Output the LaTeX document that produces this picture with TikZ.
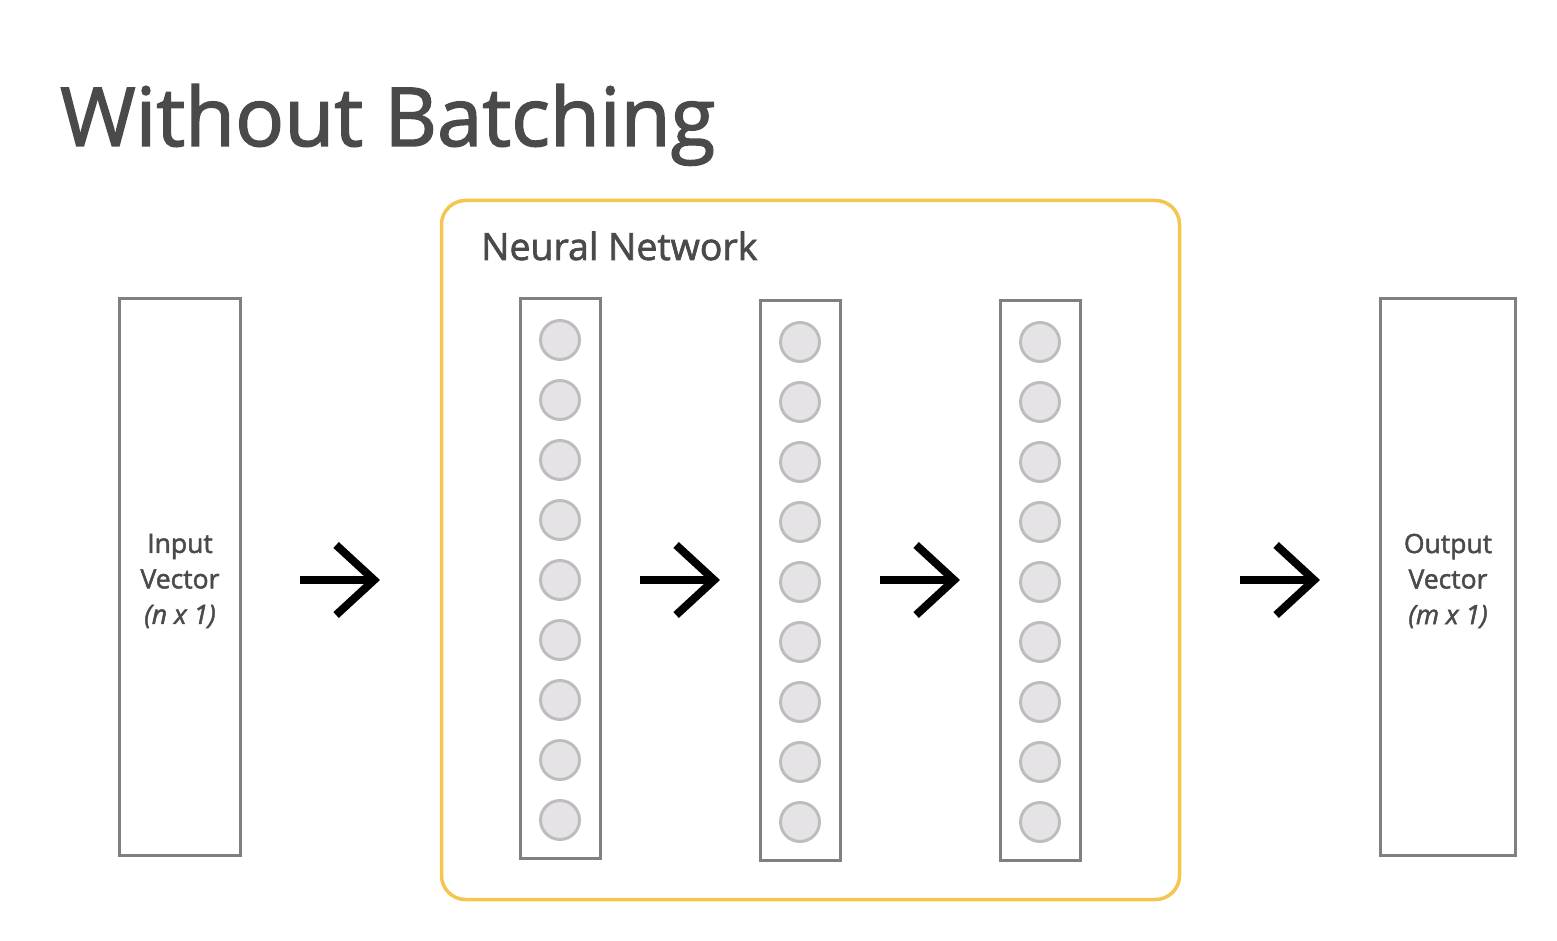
\documentclass[tikz,border=0pt]{standalone}
\usepackage{fontspec}
\setmainfont{Open Sans}[FakeBold=1.8]
\usetikzlibrary{positioning,arrows.meta}
\definecolor{boxgray}{HTML}{808080}
\definecolor{txtgray}{HTML}{4A4A4A}
\definecolor{nodeline}{HTML}{BDBDBD}
\definecolor{nodefill}{HTML}{E6E3E7}
\definecolor{nnyellow}{HTML}{F4C550}

\begin{document}
\begin{tikzpicture}[x=1pt, y=1pt,
    vec/.style={draw=boxgray, line width=3pt, inner sep=0pt, minimum height=557pt},
    vectext/.style={align=center, text=txtgray, inner sep=0pt, font=\fontsize{26.5}{35.5}\selectfont},
    layer/.style={draw=boxgray, line width=3pt, minimum width=80pt, minimum height=560pt, inner sep=0pt},
    neuron/.style={circle, draw=nodeline, fill=nodefill, line width=3pt, minimum size=39pt, inner sep=0pt},
    flow/.style={-{Straight Barb[length=38pt, width=70pt]}, line width=8pt}]
      \useasboundingbox (0,0) rectangle (1557,-941);
      \node[anchor=base west, text=txtgray, font=\fontsize{81.5}{90}\selectfont, inner sep=0pt] (title) at (60,-146) {Without Batching};
      \node[draw=nnyellow, line width=3.5pt, rounded corners=24pt, minimum width=738pt, minimum height=699pt, inner sep=0pt] (nn) at (810.5,-550) {};
      \node[anchor=base west, text=txtgray, font=\fontsize{37.5}{40}\selectfont, inner sep=0pt] (nnlabel) at (481,-260) {Neural Network};
      \node[vec, minimum width=121pt] (input) at (180,-577) {};
      \node[vec, minimum width=135pt] (output) at (1448,-577) {};
      \node[vectext] (intext) at ([yshift=-4pt]input.center) {Input\\Vector\\\textit{(n x 1)}};
      \node[vectext] (outtext) at ([yshift=-4pt]output.center) {Output\\Vector\\\textit{(m x 1)}};
      \node[layer] (hidA) at (560,-578.5) {};
      \node[layer] (hidB) at (800,-580.5) {};
      \node[layer] (hidC) at (1040,-580.5) {};
      \foreach \k in {0,...,8} {
        \node[neuron] (a\k) at (560,-340-60*\k) {};
        \node[neuron] (b\k) at (800,-342-60*\k) {};
        \node[neuron] (c\k) at (1040,-342-60*\k) {};
      }
      % arrows between the blocks
      \coordinate (s1) at (300,-580); \coordinate (e1) at (380,-580);
      \coordinate (s2) at (640,-580); \coordinate (e2) at (720,-580);
      \coordinate (s3) at (880,-580); \coordinate (e3) at (960,-580);
      \coordinate (s4) at (1240,-580); \coordinate (e4) at (1320,-580);
      \foreach \i in {1,...,4}
        \draw[flow] (s\i) -- (e\i);
\end{tikzpicture}
\end{document}
